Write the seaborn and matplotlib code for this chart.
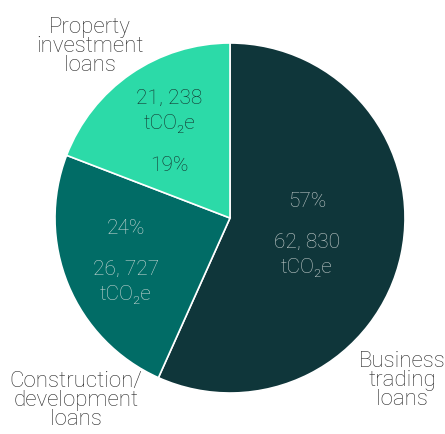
import numpy as np
import matplotlib
matplotlib.use("Agg")
import matplotlib.pyplot as plt
import seaborn as sns

# data
categories = ["Business\ntrading\nloans", "Construction/\ndevelopment\nloans", "Property\ninvestment\nloans"]
emissions = [62830, 26727, 21238]
emission_labels = ["62, 830", "26, 727", "21, 238"]
shares = ["57%", "24%", "19%"]

colors = ["#0f363a", "#016c66", "#2cdaa8"]
text_colors = ["#c3cccb", "#c6d6d3", "#14302c"]

sns.set_theme(style="white")
plt.rcParams["font.family"] = ["Roboto", "DejaVu Sans"]

W, H = 445, 434
cx, cy, R = 230, 218, 175  # pie centre and radius in pixels

fig = plt.figure(figsize=(W / 100, H / 100), dpi=100)
ax = fig.add_axes([0, 0, 1, 1])

wedges, _ = ax.pie(
    emissions,
    colors=colors,
    startangle=90,
    counterclock=False,
    radius=1.0,
    center=(0, 0),
    wedgeprops=dict(edgecolor="white", linewidth=1.2),
)

px = 1.0 / R  # one pixel in data units

# inner label groups, placed along each wedge's mid-angle
inner_r = [0.45, 0.645, 0.61]
pct_first = [True, True, False]
for w, lab, sh, r, first, tc in zip(wedges, emission_labels, shares, inner_r, pct_first, text_colors):
    ang = np.deg2rad((w.theta1 + w.theta2) / 2)
    x, y = r * np.cos(ang), r * np.sin(ang)
    if first:
        lines = [(sh, -33), (lab, 8), ("tCO\u2082e", 33)]
    else:
        lines = [(lab, -32), ("tCO\u2082e", -7), (sh, 35)]
    for s, off in lines:
        ax.text(x, y - off * px, s, ha="center", va="center", color=tc,
                fontsize=15, fontweight="light")

# outer category labels
outer_pos = [(0.985, -0.93), (-0.88, -1.045), (-0.8, 0.98)]
for (x, y), cat in zip(outer_pos, categories):
    ax.text(x, y, cat, ha="center", va="center", color="#2a2a2a", fontsize=16,
            fontweight="light", linespacing=0.88)

ax.set_xlim(-cx / R, (W - cx) / R)
ax.set_ylim(-(H - cy) / R, cy / R)
ax.set_aspect("equal")
ax.axis("off")

fig.savefig("out.png", dpi=100, facecolor="white")
